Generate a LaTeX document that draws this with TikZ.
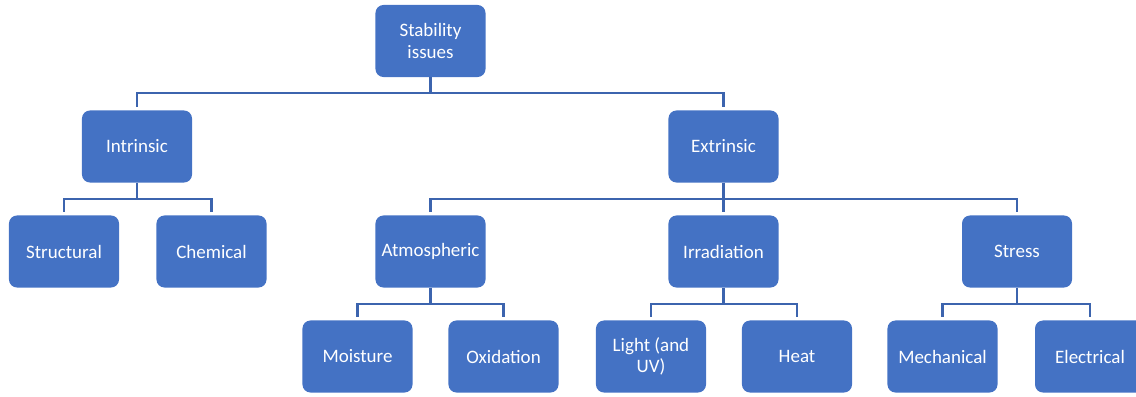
\documentclass[tikz,border=0pt]{standalone}
\usepackage{fontspec}
\setmainfont{Carlito}
\usepackage{tikz}
\definecolor{boxblue}{HTML}{4472C4}
\definecolor{lineblue}{HTML}{3C64AE}

\begin{document}
\begin{tikzpicture}[x=0.025cm,y=-0.025cm,
  box/.style={fill=boxblue,rounded corners=0.2cm,minimum width=2.75cm,minimum height=1.8cm,
    inner sep=0pt,align=center,text=white,font=\fontsize{13.5}{15}\selectfont},
  link/.style={draw=lineblue,line width=1.6pt,shorten >=0.07cm}]
  \useasboundingbox (0,0) rectangle (1136,396);
  \node[box] (stab) at (430.5,41) {Stability\\issues};
  \node[box] (intr) at (137,146.5) {Intrinsic};
  \node[box] (extr) at (723.5,146.5) {Extrinsic};
  \node[box] (struc) at (64,251.5) {Structural};
  \node[box] (chem) at (211.5,251.5) {Chemical};
  \node[box] (atmo) at (430.5,251.5) {Atmospheric};
  \node[box] (irrad) at (723.5,251.5) {Irradiation};
  \node[box] (stress) at (1017,251.5) {Stress};
  \node[box] (moist) at (357.5,356.5) {Moisture};
  \node[box] (oxid) at (503.5,356.5) {Oxidation};
  \node[box] (light) at (651,356.5) {Light (and\\UV)};
  \node[box] (heat) at (797,356.5) {Heat};
  \node[box] (mech) at (942.5,356.5) {Mechanical};
  \node[box] (elec) at (1090,356.5) {Electrical};
  \draw[link] (stab.south) -- ++(0,16) -| (intr.north);
  \draw[link] (stab.south) -- ++(0,16) -| (extr.north);
  \draw[link] (intr.south) -- ++(0,16) -| (struc.north);
  \draw[link] (intr.south) -- ++(0,16) -| (chem.north);
  \draw[link] (extr.south) -- ++(0,16) -| (atmo.north);
  \draw[link] (extr.south) -- ++(0,16) -| (irrad.north);
  \draw[link] (extr.south) -- ++(0,16) -| (stress.north);
  \draw[link] (atmo.south) -- ++(0,16) -| (moist.north);
  \draw[link] (atmo.south) -- ++(0,16) -| (oxid.north);
  \draw[link] (irrad.south) -- ++(0,16) -| (light.north);
  \draw[link] (irrad.south) -- ++(0,16) -| (heat.north);
  \draw[link] (stress.south) -- ++(0,16) -| (mech.north);
  \draw[link] (stress.south) -- ++(0,16) -| (elec.north);
\end{tikzpicture}
\end{document}
